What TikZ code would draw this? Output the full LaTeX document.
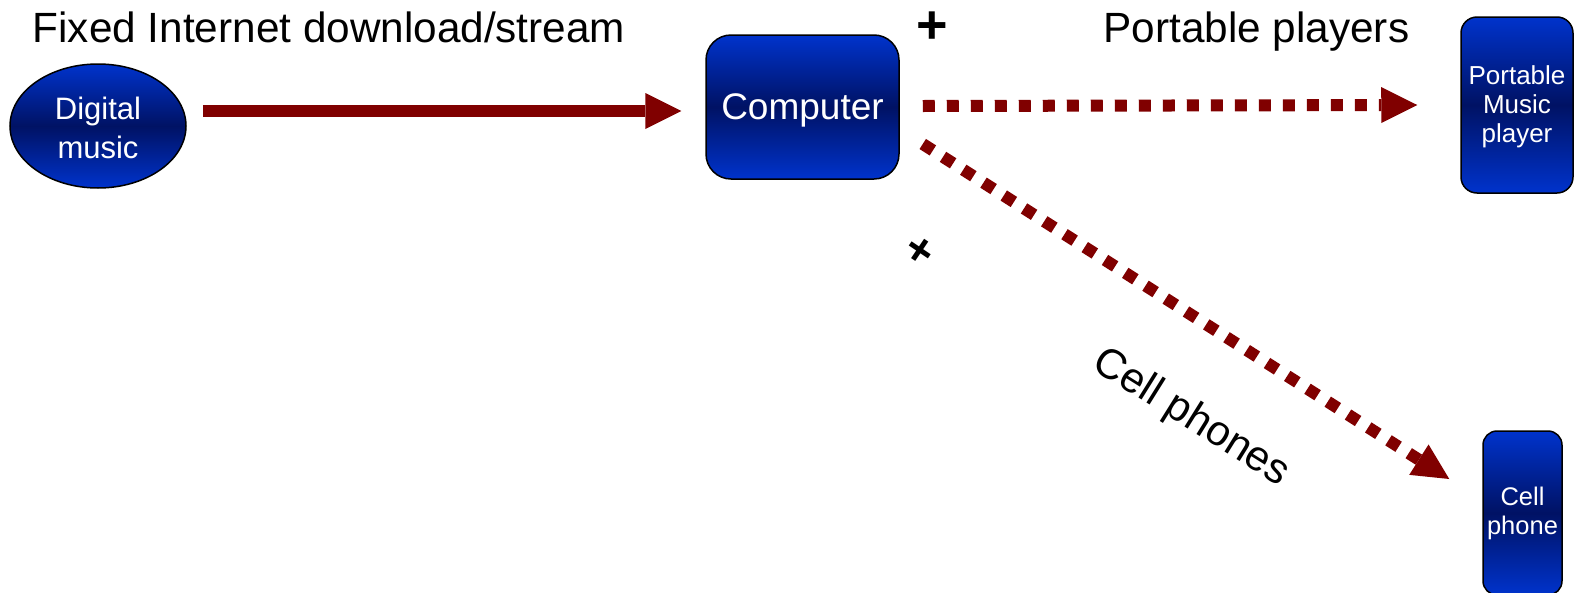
\documentclass[tikz,border=0pt]{standalone}
\usepackage{fontspec}
\setmainfont{Liberation Sans}
\usetikzlibrary{shapes.geometric,arrows.meta}
\definecolor{arrowred}{RGB}{128,0,0}
\definecolor{boxblue}{RGB}{0,51,204}
\definecolor{boxnavy}{RGB}{0,18,100}
\newcommand{\fsz}[2]{\fontsize{#1}{#2}\selectfont}
% invisible strut that lowers a multi-line label inside its shape
\newcommand{\toppad}[1]{\rule{0pt}{#1}}
\begin{document}
\begin{tikzpicture}[x=1pt,y=-1pt,
  device/.style={draw=black,line width=1.5pt,top color=boxblue,bottom color=boxblue,
    middle color=boxnavy,text=white,inner sep=0pt,align=center},
  caption/.style={text=black,inner sep=0pt,font=\fsz{42.3}{48}},
  flow/.style={line width=12pt,draw=arrowred,
    -{Triangle[length=36pt,width=36pt,line width=0pt]}},
  dotflow/.style={flow,dash pattern=on 12pt off 12pt}]
\useasboundingbox (0,0) rectangle (1575,592);

% devices
\node[device,ellipse,minimum width=176pt,minimum height=124pt,font=\fsz{31}{39}]
  (dm) at (98,126) {\toppad{27pt}Digital\\music};
\node[device,rounded corners=25pt,minimum width=193pt,minimum height=144pt,font=\fsz{37}{44},
  text depth=0pt] (comp) at (802.5,107) {Computer};
\node[device,rounded corners=16pt,minimum width=112pt,minimum height=176pt,font=\fsz{26}{29}]
  (pmp) at (1517,105) {\toppad{21.4pt}Portable\\Music\\player};
\node[device,rounded corners=14pt,minimum width=79pt,minimum height=164pt,font=\fsz{25.5}{29}]
  (cp) at (1522.5,513) {Cell\\phone};

% captions
\node[caption,anchor=base west] (fixed) at (32.5,42) {Fixed Internet download/stream};
\node[caption,anchor=base east] (portable) at (1409.5,42) {Portable players};
\node[caption,font=\fsz{54}{60}\bfseries] (plusA) at (932,28) {+};
\node[caption,font=\fsz{46}{50}\bfseries,rotate=-34] (plusB) at (919,252) {+};
\node[caption,rotate=-32] (cellphones) at (1191,418) {Cell phones};

% connections
\draw[flow] ([shift={(16,-15)}]dm.east) -- ([shift={(-24,4)}]comp.west);
\draw[dotflow] ([shift={(23,-1)}]comp.east) -- ([shift={(-43,0)}]pmp.west);
\draw[dotflow] ([shift={(23,37)}]comp.east) -- ([shift={(-33,-34)}]cp.west);
\end{tikzpicture}
\end{document}
